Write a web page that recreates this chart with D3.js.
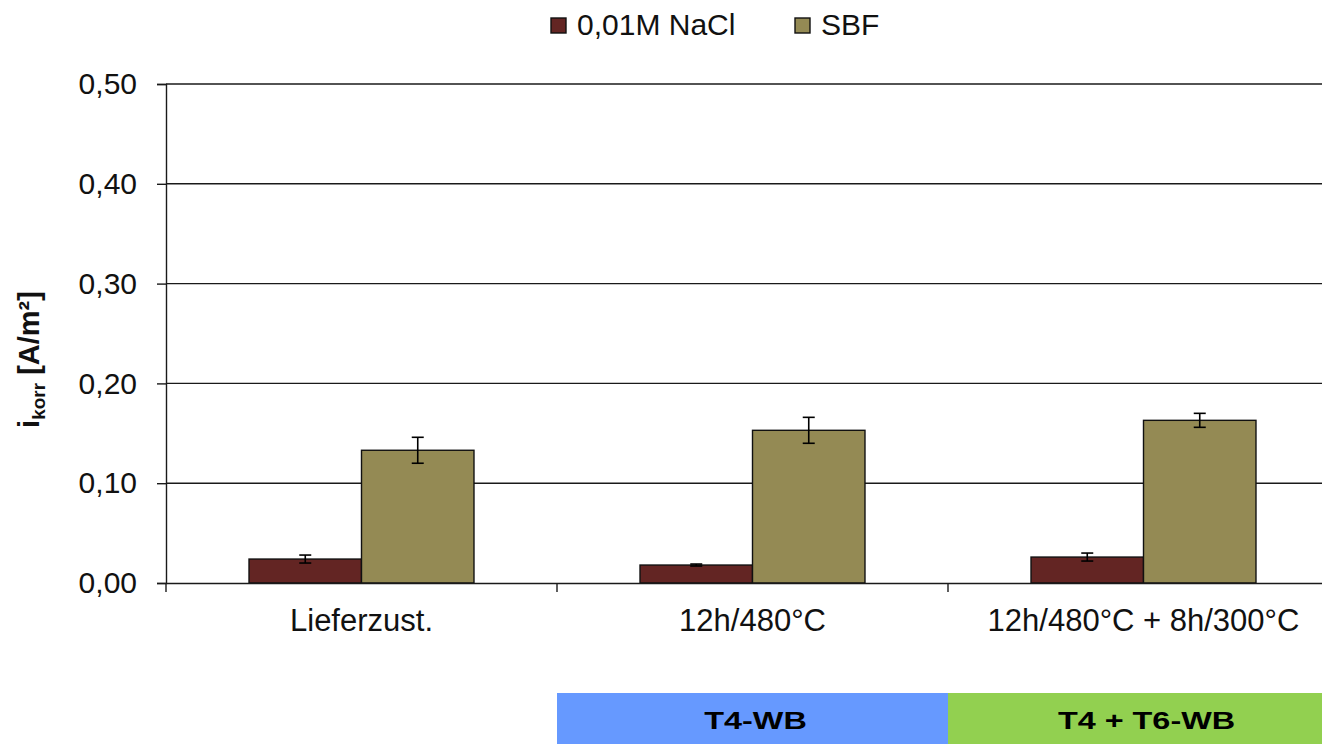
<!DOCTYPE html>
<html>
<head>
<meta charset="utf-8">
<script src="https://cdnjs.cloudflare.com/ajax/libs/d3/7.8.5/d3.min.js"></script>
<style>
  html, body { margin: 0; padding: 0; background: #fff; }
  svg { display: block; font-family: Arial, "Liberation Sans", sans-serif; }
</style>
</head>
<body>
<svg id="chart" width="1322" height="744"></svg>
<script>
// Corrosion current density per heat-treatment state
const categories = ["Lieferzust.", "12h/480°C", "12h/480°C + 8h/300°C"];
const seriesNames = ["0,01M NaCl", "SBF"];
const naclValues = [0.024, 0.018, 0.026];
const naclErrors = [0.004, 0.001, 0.004];
const sbfValues = [0.133, 0.153, 0.163];
const sbfErrors = [0.013, 0.013, 0.007];
const yTicks = [0, 0.1, 0.2, 0.3, 0.4, 0.5];
// Treatment groups shown below the axis: label and the categories they span
const groupLabels = ["T4-WB", "T4 + T6-WB"];
const groupStart = ["12h/480°C", "12h/480°C + 8h/300°C"];
const groupEnd = ["12h/480°C", "12h/480°C + 8h/300°C"];
const groupColors = ["#6699ff", "#92d050"];
const seriesColors = ["#632523", "#948a54"];

const W = 1322;
const svg = d3.select("#chart");
const margin = { left: 166, top: 84, bottom: 583 };
const plotRight = 1339;
const FONT = "Arial, 'Liberation Sans', sans-serif";

const x = d3.scaleBand().domain(categories).range([margin.left, plotRight]).padding(0);
const inner = d3.scaleBand().domain(seriesNames).range([0, x.bandwidth()])
  .paddingInner(0).paddingOuter(0.738);
const y = d3.scaleLinear().domain([0, 0.5]).range([margin.bottom, margin.top]);

const fmt = d => d3.format(".2f")(d).replace(".", ",");

// Horizontal gridlines
svg.append("g").selectAll("line").data(yTicks.filter(d => d > 0)).join("line")
  .attr("x1", margin.left).attr("x2", W)
  .attr("y1", d => y(d)).attr("y2", d => y(d))
  .attr("stroke", "#1a1a1a").attr("stroke-width", 1.4);

// Bars
const rows = categories.map((c, i) => ({
  cat: c,
  items: [
    { s: seriesNames[0], v: naclValues[i], e: naclErrors[i], color: seriesColors[0] },
    { s: seriesNames[1], v: sbfValues[i], e: sbfErrors[i], color: seriesColors[1] }
  ]
}));

const groups = svg.append("g").selectAll("g").data(rows).join("g")
  .attr("transform", d => `translate(${x(d.cat)},0)`);

groups.selectAll("rect").data(d => d.items).join("rect")
  .attr("x", d => inner(d.s))
  .attr("width", inner.bandwidth())
  .attr("y", d => y(d.v))
  .attr("height", d => y(0) - y(d.v))
  .attr("fill", d => d.color)
  .attr("stroke", "#111").attr("stroke-width", 1.4);

// Error bars
const eb = groups.selectAll("g.err").data(d => d.items).join("g").attr("class", "err")
  .attr("transform", d => `translate(${inner(d.s) + inner.bandwidth() / 2},0)`);
eb.append("line").attr("x1", 0).attr("x2", 0)
  .attr("y1", d => y(d.v + d.e)).attr("y2", d => y(d.v - d.e))
  .attr("stroke", "#000").attr("stroke-width", 1.6);
eb.selectAll("line.cap").data(d => [d.v + d.e, d.v - d.e]).join("line").attr("class", "cap")
  .attr("x1", -6).attr("x2", 6)
  .attr("y1", d => y(d)).attr("y2", d => y(d))
  .attr("stroke", "#000").attr("stroke-width", 1.6);

// Y axis
const yAxis = svg.append("g").attr("transform", `translate(${margin.left},0)`)
  .call(d3.axisLeft(y).tickValues(yTicks).tickFormat(fmt).tickSize(9).tickPadding(20));
yAxis.select(".domain").attr("stroke", "#1a1a1a").attr("stroke-width", 1.4);
yAxis.selectAll(".tick line").attr("stroke", "#1a1a1a").attr("stroke-width", 1.4);
yAxis.selectAll(".tick text").attr("font-size", 30).attr("fill", "#111")
  .attr("font-family", FONT);

// X axis
const xAxis = svg.append("g").attr("transform", `translate(0,${margin.bottom})`)
  .call(d3.axisBottom(x).tickSize(0).tickPadding(26));
xAxis.select(".domain").attr("stroke", "#1a1a1a").attr("stroke-width", 1.4);
xAxis.selectAll(".tick text").attr("font-size", 31).attr("fill", "#111")
  .attr("font-family", FONT);
// Tick marks at category boundaries
const bounds = categories.map(c => x(c)).concat([x(categories[categories.length - 1]) + x.bandwidth()]);
svg.append("g").selectAll("line").data(bounds).join("line")
  .attr("x1", d => d).attr("x2", d => d)
  .attr("y1", margin.bottom).attr("y2", margin.bottom + 9)
  .attr("stroke", "#1a1a1a").attr("stroke-width", 1.4);

// Y axis title
const yt = svg.append("text")
  .attr("transform", `translate(39,${(margin.top + margin.bottom) / 2 + 26}) rotate(-90)`)
  .attr("text-anchor", "middle").attr("font-size", 29).attr("font-weight", "bold").attr("fill", "#111");
yt.append("tspan").text("i");
yt.append("tspan").attr("font-size", 19).attr("dy", 6).text("korr");
yt.append("tspan").attr("dy", -6).text(" [A/m²]");

// Legend
const legend = svg.append("g").attr("transform", "translate(551,18)");
const legendX = [0, 244];
seriesNames.forEach((n, i) => {
  const g = legend.append("g").attr("transform", `translate(${legendX[i]},0)`);
  g.append("rect").attr("width", 15).attr("height", 15)
    .attr("fill", seriesColors[i]).attr("stroke", "#111").attr("stroke-width", 1.4);
  g.append("text").attr("x", 26).attr("y", 17).attr("font-size", 30).attr("fill", "#111").text(n);
});

// Treatment group boxes below the axis
const gb = svg.append("g").selectAll("g").data(groupLabels.map((l, i) => ({
  label: l, x0: x(groupStart[i]), x1: x(groupEnd[i]) + x.bandwidth(), color: groupColors[i]
}))).join("g");
gb.append("rect")
  .attr("x", d => d.x0).attr("width", d => d.x1 - d.x0)
  .attr("y", 693).attr("height", 51)
  .attr("fill", d => d.color);
gb.append("text")
  .attr("transform", d => `translate(${(d.x0 + d.x1) / 2 + 3},729) scale(1.35,1)`)
  .attr("text-anchor", "middle")
  .attr("font-size", 24).attr("font-weight", "bold").attr("fill", "#000")
  .text(d => d.label);
</script>
</body>
</html>
